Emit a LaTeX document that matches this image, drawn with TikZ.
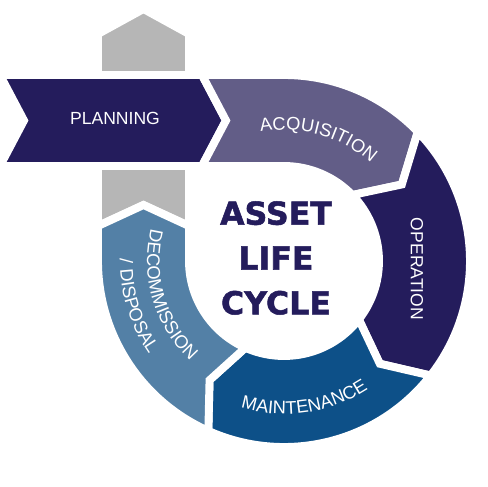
\documentclass[tikz,border=0pt]{standalone}
\usepackage{fontspec}
\setmainfont{Liberation Sans}
\newfontfamily\titlefont{DejaVu Sans}[BoldFeatures={FakeBold=1.6}]
\usetikzlibrary{calc,decorations.text}

\definecolor{navy}{RGB}{36,28,92}
\definecolor{acqcol}{RGB}{98,93,135}
\definecolor{maintcol}{RGB}{13,80,136}
\definecolor{decomcol}{RGB}{83,128,166}
\definecolor{greycol}{RGB}{182,182,182}

\tikzset{
  seg/.style={draw=white,line width=4.5pt,line join=miter},
  lbl/.style={text=white,font=\fontsize{10}{12}\selectfont},
  heading/.style={text=navy,font=\titlefont\bfseries\fontsize{18}{25.5}\selectfont,align=center},
  arclbl/.style={decorate,decoration={text along path,text align=center,text={|\arcfont|#1}}}
}
\newcommand\arcfont{\fontsize{10.4}{12}\selectfont\color{white}}

\begin{document}
\begin{tikzpicture}[x=0.02cm,y=0.02cm]
  \useasboundingbox (0,0) rectangle (488,487);
  \coordinate (C) at (284,226);
  % grey arrow behind the planning band
  \filldraw[seg,fill=greycol] (98,261) -- (143.5,282) -- (189,261) -- (189,453) -- (143.5,478) -- (98,453) -- cycle;
  % Planning band
  \filldraw[seg,fill=navy] (0,412) -- (202,412) -- (226,366.5) -- (202,321) -- (0,321) -- (24,366.5) -- cycle;
  % Ring segments, clockwise
  \filldraw[seg,fill=acqcol] (202,412) -- (284,412) arc[start angle=90,end angle=44,radius=186]
    -- ($(C)+(33:140.5)$) -- ($(C)+(44:95)$) arc[start angle=44,end angle=90,radius=95]
    -- (202,321) -- (226,366.5) -- cycle;
  \filldraw[seg,fill=navy] ($(C)+(44:186)$) arc[start angle=44,end angle=-38,radius=186]
    -- ($(C)+(-47:140.5)$) -- ($(C)+(-38:95)$) arc[start angle=-38,end angle=44,radius=95]
    -- ($(C)+(33:140.5)$) -- cycle;
  \filldraw[seg,fill=maintcol] ($(C)+(-38:186)$) arc[start angle=-38,end angle=-114,radius=186]
    -- ($(C)+(-122:140.5)$) -- ($(C)+(-114:95)$) arc[start angle=-114,end angle=-38,radius=95]
    -- ($(C)+(-47:140.5)$) -- cycle;
  \filldraw[seg,fill=decomcol] ($(C)+(246:186)$) arc[start angle=246,end angle=180,radius=186]
    -- (98,261) -- (143.5,282) -- (189,261) -- (189,226) arc[start angle=180,end angle=246,radius=95]
    -- ($(C)+(238:140.5)$) -- cycle;
  % Labels
  \node[lbl] (planning) at (115,369) {PLANNING};
  \node[lbl,rotate=-90] (operation) at (417,218) {OPERATION};
  \node[heading] (title) at (276,229) {ASSET\\LIFE\\CYCLE};
  \path[arclbl=ACQUISITION] ($(C)+(119.3:131)$) arc[start angle=119.3,end angle=29.3,radius=131];
  \path[arclbl=MAINTENANCE] ($(C)+(-126.5:153)$) arc[start angle=-126.5,end angle=-36.5,radius=153];
  \path[arclbl=DECOMMISSION] ($(C)+(146.5:137)$) arc[start angle=146.5,end angle=246.5,radius=137];
  \path[arclbl=/ DISPOSAL] ($(C)+(147:164)$) arc[start angle=147,end angle=247,radius=164];
\end{tikzpicture}
\end{document}
